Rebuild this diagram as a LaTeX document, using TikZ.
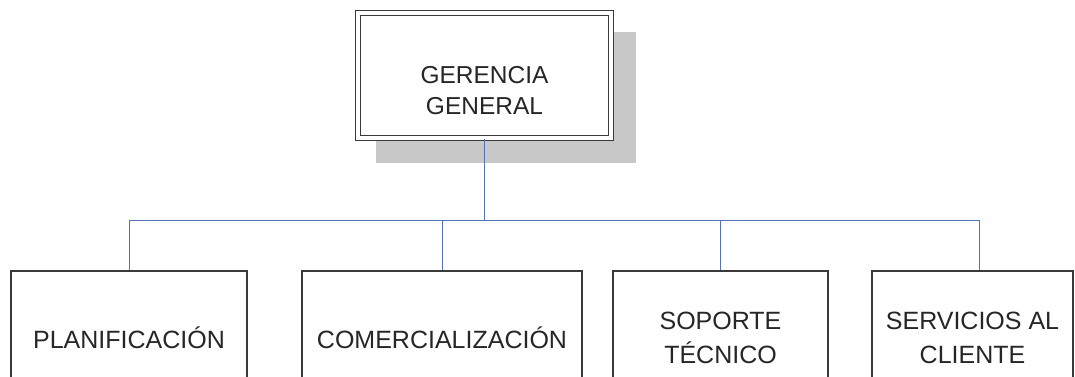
\documentclass[tikz,border=0pt]{standalone}
\usepackage{fontspec}
\setmainfont{Liberation Sans}
\definecolor{linegray}{HTML}{3A3A3A}
\definecolor{textgray}{HTML}{262626}
\definecolor{shadowgray}{HTML}{C8C8C8}
\definecolor{linkblue}{HTML}{5573B4}

\begin{document}
\begin{tikzpicture}[x=1pt, y=-1pt,
		unit/.style={draw=linegray, line width=1.3pt, fill=white, rectangle, minimum height=134pt, align=center, text=textgray, font=\fontsize{25}{34.5}\selectfont},
		head/.style={draw=linegray, line width=1.5pt, double=white, double distance=3.5pt, fill=white, rectangle, minimum width=253pt, minimum height=125pt},
		link/.style={draw=linkblue, line width=1pt}]
				\path[use as bounding box, clip] (0,0) rectangle (1075,376);
				\fill[white] (0,0) rectangle (1075,376);
				% gerencia with its shadow
				\coordinate (top) at (484.5, 75.5);
				\fill[shadowgray] ([shift={(-108.5,-43.5)}]top) rectangle ([shift={(151.5,87.5)}]top);
				\node[head] (gg)at(top) {};
				\node[align=center, text=textgray, font=\fontsize{24.5}{31.5}\selectfont] (ggtext)at([shift={(0,15.25)}]gg.center) {GERENCIA\\GENERAL};
				% areas
				\node[unit, minimum width=236pt] (pl)at(129, 338) {PLANIFICACIÓN};
				\node[unit, minimum width=280pt] (co)at(442, 338) {COMERCIALIZACIÓN};
				\node[unit, minimum width=215pt] (so)at(720.5, 338) {SOPORTE\\TÉCNICO};
				\node[unit, minimum width=201pt] (sc)at(972.5, 338) {SERVICIOS AL\\CLIENTE};
				% links
				\coordinate (bus) at (484.5, 220);
				\coordinate (scdrop) at ([xshift=6.5pt]sc.north);
				\draw[link] (gg.south) -- (bus);
				\draw[link] (pl.north) -- (bus -| pl.north) -- (bus -| scdrop) -- (scdrop);
				\draw[link] (bus -| co.north) -- (co.north);
				\draw[link] (bus -| so.north) -- (so.north);
			\end{tikzpicture}
\end{document}
